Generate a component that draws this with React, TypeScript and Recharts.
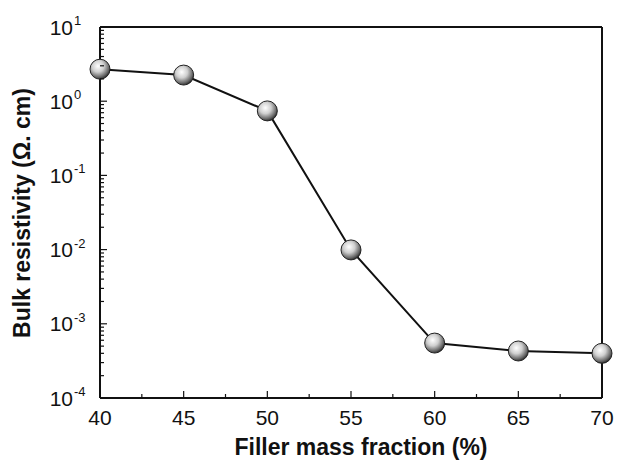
import React from 'react';
import { LineChart, Line, XAxis, YAxis, ReferenceLine, Label } from 'recharts';

const fillerFraction = [40, 45, 50, 55, 60, 65, 70];
const bulkResistivity = [2.7, 2.25, 0.74, 0.0099, 0.00055, 0.00043, 0.0004];
const xTicks = [40, 42.5, 45, 47.5, 50, 52.5, 55, 57.5, 60, 62.5, 65, 67.5, 70];
const yDecades = [-4, -3, -2, -1, 0];

const data = fillerFraction.map((f, i) => ({ fraction: f, resistivity: bulkResistivity[i] }));

// major + minor log ticks
const yTicks: number[] = [];
yDecades.forEach((d) => {
  for (let k = 1; k <= 9; k++) yTicks.push(k * Math.pow(10, d));
});
yTicks.push(10);

const FONT = 'Arial, "Liberation Sans", sans-serif';

const YTick = (props: any) => {
  const { x, y, payload } = props;
  const lg = Math.log10(payload.value);
  const e = Math.round(lg);
  const major = Math.abs(lg - e) < 1e-6;
  return (
    <g>
      <line x1={x} x2={x + (major ? 7 : 4)} y1={y} y2={y} stroke="#111" strokeWidth={1.2} />
      {major && (
        <text x={x - 27} y={y + 7.5} textAnchor="end" fontSize={21} fontFamily={FONT} fill="#111">
          10
        </text>
      )}
      {major && (
        <text x={x - 26} y={y - 2} textAnchor="start" fontSize={13} fontFamily={FONT} fill="#111">
          {e}
        </text>
      )}
    </g>
  );
};

const XTick = (props: any) => {
  const { x, y, payload } = props;
  const major = payload.value % 5 === 0;
  return (
    <g>
      <line x1={x} x2={x} y1={y} y2={y - (major ? 7 : 4)} stroke="#111" strokeWidth={1.2} />
      {major && (
        <text x={x} y={y + 27} textAnchor="middle" fontSize={21} fontFamily={FONT} fill="#111">
          {payload.value}
        </text>
      )}
    </g>
  );
};

const Ball = (props: any) => {
  const { cx, cy, index } = props;
  const id = `ball-${index}`;
  return (
    <g>
      <defs>
        <radialGradient id={id} cx="40%" cy="35%" r="65%">
          <stop offset="0%" stopColor="#ffffff" />
          <stop offset="45%" stopColor="#cfcfcf" />
          <stop offset="85%" stopColor="#666" />
          <stop offset="100%" stopColor="#333" />
        </radialGradient>
      </defs>
      <circle cx={cx} cy={cy} r={10} fill={`url(#${id})`} stroke="#222" strokeWidth={1} />
    </g>
  );
};

const App = () => {
  return (
    <div style={{ position: 'absolute', left: 0, top: 0, background: '#fff' }}>
      <LineChart width={618} height={461} data={data} margin={{ top: 27, right: 16, left: 0, bottom: 0 }}>
        <XAxis
          dataKey="fraction"
          type="number"
          domain={[40, 70]}
          ticks={xTicks}
          interval={0}
          height={63}
          tickSize={0}
          tickMargin={0}
          tickLine={false}
          tick={<XTick />}
          axisLine={{ stroke: '#111', strokeWidth: 2 }}
        >
          <Label
            content={() => (
              <text x={361} y={455} textAnchor="middle" fontSize={23} fontWeight="bold" fontFamily={FONT} fill="#111">
                Filler mass fraction (%)
              </text>
            )}
          />
        </XAxis>
        <YAxis
          dataKey="resistivity"
          scale="log"
          domain={[0.0001, 10]}
          ticks={yTicks}
          interval={0}
          width={100}
          tickSize={0}
          tickMargin={0}
          tickLine={false}
          tick={<YTick />}
          allowDataOverflow
          axisLine={{ stroke: '#111', strokeWidth: 2 }}
        >
          <Label
            content={() => (
              <text
                x={0}
                y={0}
                transform="translate(30,213) rotate(-90)"
                textAnchor="middle"
                fontSize={23}
                fontWeight="bold"
                fontFamily={FONT}
                fill="#111"
              >
                Bulk resistivity (Ω. cm)
              </text>
            )}
          />
        </YAxis>
        <ReferenceLine x={70} stroke="#111" strokeWidth={2} />
        <ReferenceLine y={10} stroke="#111" strokeWidth={2} />
        <Line
          dataKey="resistivity"
          stroke="#111"
          strokeWidth={2}
          dot={<Ball />}
          isAnimationActive={false}
        />
      </LineChart>
    </div>
  );
};

export default App;
